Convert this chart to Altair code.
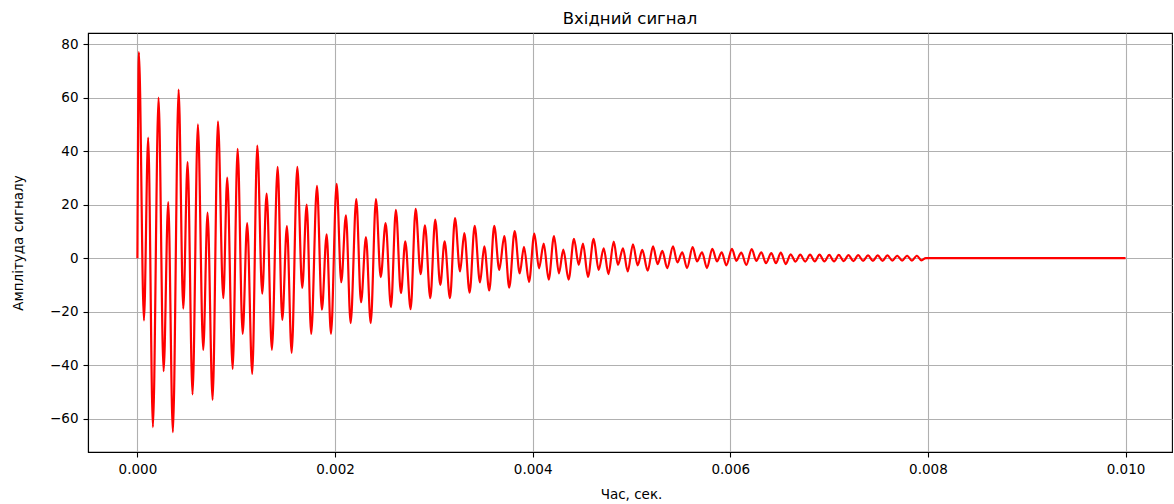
import altair as alt
import pandas as pd

# ---- data (extrema of the signal), time in seconds ----
seg1_t = [0.0, 0.000015, 0.000066, 0.000109, 0.000157, 0.000214, 0.000265, 0.000312,
          0.000359, 0.000417, 0.000464, 0.000508, 0.000558, 0.000612, 0.000666, 0.000710,
          0.000761, 0.000815, 0.000869, 0.000909, 0.000964, 0.001014, 0.001065, 0.001111,
          0.001162, 0.001213, 0.001263, 0.001308]
seg1_v = [0, 77.1, -23.3, 45.1, -63.2, 60.0, -42.3, 21.0,
          -65.1, 63.0, -18.9, 35.9, -51.0, 50.0, -34.3, 17.0,
          -53.0, 51.2, -15.0, 30.1, -41.4, 40.9, -28.3, 13.1,
          -43.3, 42.1, -13.3, 24.1]

seg2_t = [0.001361, 0.001419, 0.001466, 0.001513, 0.001561, 0.001618, 0.001668, 0.001713,
          0.001759, 0.001817, 0.001867, 0.001915, 0.001959, 0.002016, 0.002063, 0.002110,
          0.002158, 0.002215, 0.002263, 0.002313, 0.002361, 0.002414, 0.002462, 0.002512,
          0.002566]
seg2_v = [-34.3, 34.1, -23.1, 12.0, -35.4, 34.1, -11.1, 20.0,
          -28.3, 27.0, -19.3, 8.9, -28.3, 27.8, -9.0, 16.0,
          -24.3, 22.1, -16.5, 7.9, -24.3, 22.1, -7.1, 13.1,
          -18.3]

seg3_t = [0.002616, 0.002667, 0.002711, 0.002765, 0.002816, 0.002866, 0.002910, 0.002964,
          0.003014, 0.003065, 0.003109, 0.003163, 0.003214, 0.003265, 0.003308, 0.003362,
          0.003413, 0.003467, 0.003510, 0.003561]
seg3_v = [18.1, -13.1, 6.3, -19.1, 18.4, -6.0, 12.3, -15.0,
          14.4, -10.0, 6.3, -15.0, 15.0, -5.0, 9.4, -12.9,
          12.1, -9.1, 4.4, -12.1]

seg4_t = [0.003611, 0.003662, 0.003713, 0.003763, 0.003818, 0.003869, 0.003912, 0.003963,
          0.004017, 0.004064, 0.004112, 0.004162, 0.004216, 0.004266, 0.004310, 0.004364,
          0.004418, 0.004466, 0.004509, 0.004560, 0.004617, 0.004668]
seg4_v = [12.1, -4.4, 8.2, -11.0, 10.1, -5.7, 4.2, -8.9,
          9.2, -3.8, 5.4, -8.0, 8.2, -5.7, 3.2, -8.0,
          7.2, -2.5, 5.4, -7.0, 7.2, -4.4]

seg5_t = [0.004719, 0.004767, 0.004820, 0.004863, 0.004914, 0.004962, 0.005015, 0.005063,
          0.005109, 0.005164, 0.005218, 0.005265, 0.005312, 0.005362, 0.005420, 0.005464,
          0.005514, 0.005562, 0.005619, 0.005663, 0.005714, 0.005764, 0.005818, 0.005865,
          0.005913, 0.005960, 0.006017, 0.006061, 0.006111, 0.006162, 0.006217, 0.006263,
          0.006314, 0.006361]
seg5_v = [3.7, -6.0, 6.2, -2.5, 3.7, -5.0, 5.2, -2.7,
          3.1, -4.7, 4.4, -2.2, 2.7, -3.7, 4.4, -1.6,
          2.2, -3.7, 4.1, -1.2, 2.2, -3.7, 3.5, -1.2,
          2.2, -2.7, 3.5, -1.0, 2.1, -2.5, 3.4, -1.0,
          2.2, -1.9]

seg6_t = [0.006415, 0.006462, 0.006511, 0.006561, 0.006611, 0.006660, 0.006708, 0.006758,
          0.006807, 0.006855, 0.006903, 0.006952, 0.007001, 0.007050, 0.007098, 0.007148,
          0.007196, 0.007246, 0.007294, 0.007344, 0.007394, 0.007443, 0.007492, 0.007541,
          0.007590, 0.007640, 0.007689, 0.007739, 0.007789, 0.007838, 0.007888, 0.007935,
          0.007978, 0.010]
seg6_v = [1.9, -1.9, 2.1, -2.2, 1.4, -1.3, 1.3, -1.3,
          1.3, -1.2, 1.3, -1.2, 1.2, -1.2, 1.2, -1.1,
          1.1, -1.1, 1.1, -1.0, 1.0, -1.0, 1.0, -1.0,
          1.0, -0.9, 0.9, -0.9, 0.9, -0.9, 0.9, -0.8,
          0.0, 0.0]

x_ticks = [0.0, 0.002, 0.004, 0.006, 0.008, 0.010]
y_ticks = [-60, -40, -20, 0, 20, 40, 60, 80]

title_text = "Вхідний сигнал"
x_label = "Час, сек."
y_label = "Амплітуда сигналу"

times = seg1_t + seg2_t + seg3_t + seg4_t + seg5_t + seg6_t
values = seg1_v + seg2_v + seg3_v + seg4_v + seg5_v + seg6_v
df = pd.DataFrame({"t": times, "v": values})

FONT = "DejaVu Sans"
W, H = 1084, 419

chart = (
    alt.Chart(df)
    .mark_line(color="#ff0000", strokeWidth=2.2, interpolate="monotone", clip=True)
    .encode(
        x=alt.X(
            "t:Q",
            scale=alt.Scale(domain=[-0.0005, 0.01047], nice=False, zero=False),
            axis=alt.Axis(
                values=x_ticks, format=".3f", title=x_label,
                titleX=W / 2 + 1, titleY=46, titleBaseline="alphabetic",
                titleAlign="center",
            ),
        ),
        y=alt.Y(
            "v:Q",
            scale=alt.Scale(domain=[-72.5, 84.2], nice=False, zero=False),
            axis=alt.Axis(
                values=y_ticks, format="d", title=y_label,
                titleX=-70, titleY=H / 2, titleAngle=270,
                titleBaseline="middle", titleAlign="center",
            ),
        ),
    )
    .properties(
        width=W,
        height=H,
        background="white",
        title=alt.TitleParams(
            title_text, anchor="middle", frame="group", offset=8, dy=15,
            baseline="alphabetic", fontSize=16.5, fontWeight="normal",
            font=FONT, color="#000000",
        ),
        autosize=alt.AutoSizeParams(type="none"),
        padding={"left": 88, "top": 33, "right": 2, "bottom": 52},
    )
    .configure_view(stroke="#000000", strokeWidth=1.1)
    .configure_axis(
        grid=True, gridColor="#b0b0b0", gridWidth=1.1,
        domainColor="#000000", domainWidth=1.1,
        tickColor="#000000", tickWidth=1.1, tickSize=5,
        labelFont=FONT, labelFontSize=13.5, labelColor="#000000", labelPadding=5,
        titleFont=FONT, titleFontSize=13.5, titleColor="#000000", titleFontWeight="normal",
        labelFlush=False, labelOverlap=False,
    )
)

chart.save("out.html", embed_options={"renderer": "svg", "actions": False})
